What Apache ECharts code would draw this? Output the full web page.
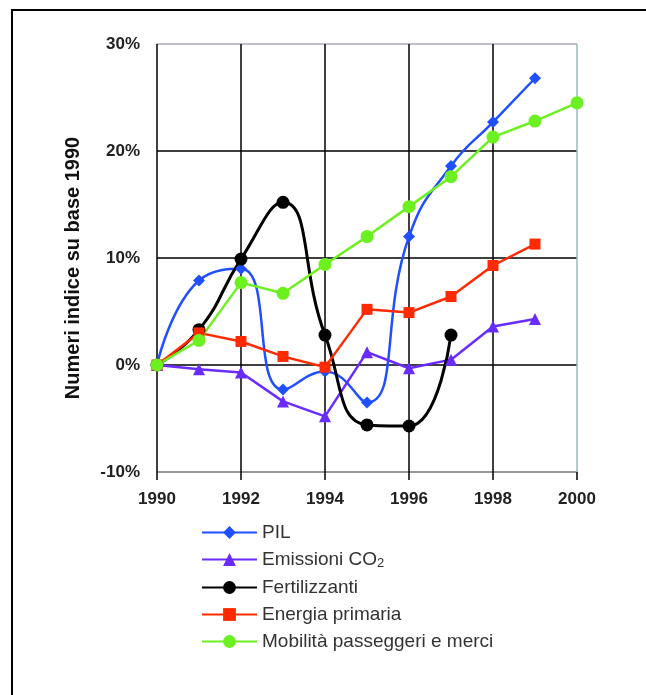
<!DOCTYPE html>
<html>
<head>
<meta charset="utf-8">
<script src="https://cdn.jsdelivr.net/npm/echarts@6/dist/echarts.min.js"></script>
<style>html,body{margin:0;padding:0;background:#fff;}#c{width:646px;height:695px;}</style>
</head>
<body>
<div id="c"></div>
<script>
var years = [1990, 1991, 1992, 1993, 1994, 1995, 1996, 1997, 1998, 1999, 2000];
var pil = [0, 7.9, 9.0, -2.3, -0.6, -3.5, 12.0, 18.6, 22.7, 26.8];
var co2 = [0, -0.4, -0.7, -3.4, -4.8, 1.2, -0.3, 0.5, 3.6, 4.3];
var fert = [0, 3.3, 9.9, 15.2, 2.8, -5.6, -5.7, 2.8];
var energia = [0, 3.0, 2.2, 0.8, -0.2, 5.2, 4.9, 6.4, 9.3, 11.3];
var mobilita = [0, 2.3, 7.7, 6.7, 9.4, 12.0, 14.8, 17.6, 21.3, 22.8, 24.5];
var names = ['PIL', 'Emissioni CO2', 'Fertilizzanti', 'Energia primaria', 'Mobilità passeggeri e merci'];
var yTicks = ['-10%', '0%', '10%', '20%', '30%'];

function pairs(vals) { return vals.map(function (v, i) { return [years[i], v]; }); }

var chart = echarts.init(document.getElementById('c'));
var font = 'Liberation Sans, Arial, sans-serif';
chart.setOption({
  animation: false,
  backgroundColor: '#fff',
  graphic: [
    { type: 'rect', shape: { x: 12, y: 10, width: 700, height: 800 }, style: { fill: 'none', stroke: '#000', lineWidth: 2 }, z: 100 },
    { type: 'text', x: 73, y: 268, rotation: Math.PI / 2, style: { text: 'Numeri indice su base 1990', fontFamily: font, fontSize: 20, fontWeight: 'bold', fill: '#111', align: 'center', verticalAlign: 'middle' } }
  ],
  grid: { left: 157, right: 69, top: 44, bottom: 223, containLabel: false },
  xAxis: {
    type: 'value', min: 1990, max: 2000, interval: 2,
    axisLine: { show: false, onZero: false },
    axisTick: { show: true, length: 8, lineStyle: { color: '#000', width: 1.5 } },
    axisLabel: { margin: 19, fontFamily: font, fontSize: 17, fontWeight: 'bold', color: '#222',
      formatter: function (v) { return String(v); } },
    splitLine: { show: true, lineStyle: { color: ['#000', '#000', '#000', '#000', '#000', '#9bb'], width: 1.5 } }
  },
  yAxis: {
    type: 'value', min: -10, max: 30, interval: 10,
    axisLine: { show: false },
    axisTick: { show: false },
    axisLabel: { margin: 17, fontFamily: font, fontSize: 17, fontWeight: 'bold', color: '#222',
      formatter: function (v) { return yTicks[Math.round((v + 10) / 10)]; } },
    splitLine: { show: true, lineStyle: { color: ['#777', '#000', '#000', '#000', '#aab'], width: 1.5 } }
  },
  legend: {
    orient: 'vertical', left: 196, top: 518, itemWidth: 55, itemHeight: 16, itemGap: 8,
    data: names,
    textStyle: { fontFamily: font, fontSize: 19, color: '#333', rich: { s: { fontFamily: font, fontSize: 13, color: '#333', padding: [8, 0, 0, 0] } } },
    formatter: function (n) { return n === 'Emissioni CO2' ? 'Emissioni CO{s|2}' : n; }
  },
  series: [
    { name: names[0], type: 'line', data: pairs(pil), smooth: 0.5, symbol: 'diamond', symbolSize: 12,
      itemStyle: { color: '#1f4fff' }, lineStyle: { color: '#1f4fff', width: 2.5 } },
    { name: names[1], type: 'line', data: pairs(co2), symbol: 'triangle', symbolSize: 12,
      itemStyle: { color: '#6a2bff' }, lineStyle: { color: '#6a2bff', width: 2.5 } },
    { name: names[2], type: 'line', data: pairs(fert), smooth: 0.5, symbol: 'circle', symbolSize: 13,
      itemStyle: { color: '#000' }, lineStyle: { color: '#000', width: 3 } },
    { name: names[3], type: 'line', data: pairs(energia), symbol: 'rect', symbolSize: 11,
      itemStyle: { color: '#ff2a00' }, lineStyle: { color: '#ff2a00', width: 2.5 } },
    { name: names[4], type: 'line', data: pairs(mobilita), symbol: 'circle', symbolSize: 13,
      itemStyle: { color: '#6cf020' }, lineStyle: { color: '#6cf020', width: 2.5 } }
  ]
});
</script>
</body>
</html>
